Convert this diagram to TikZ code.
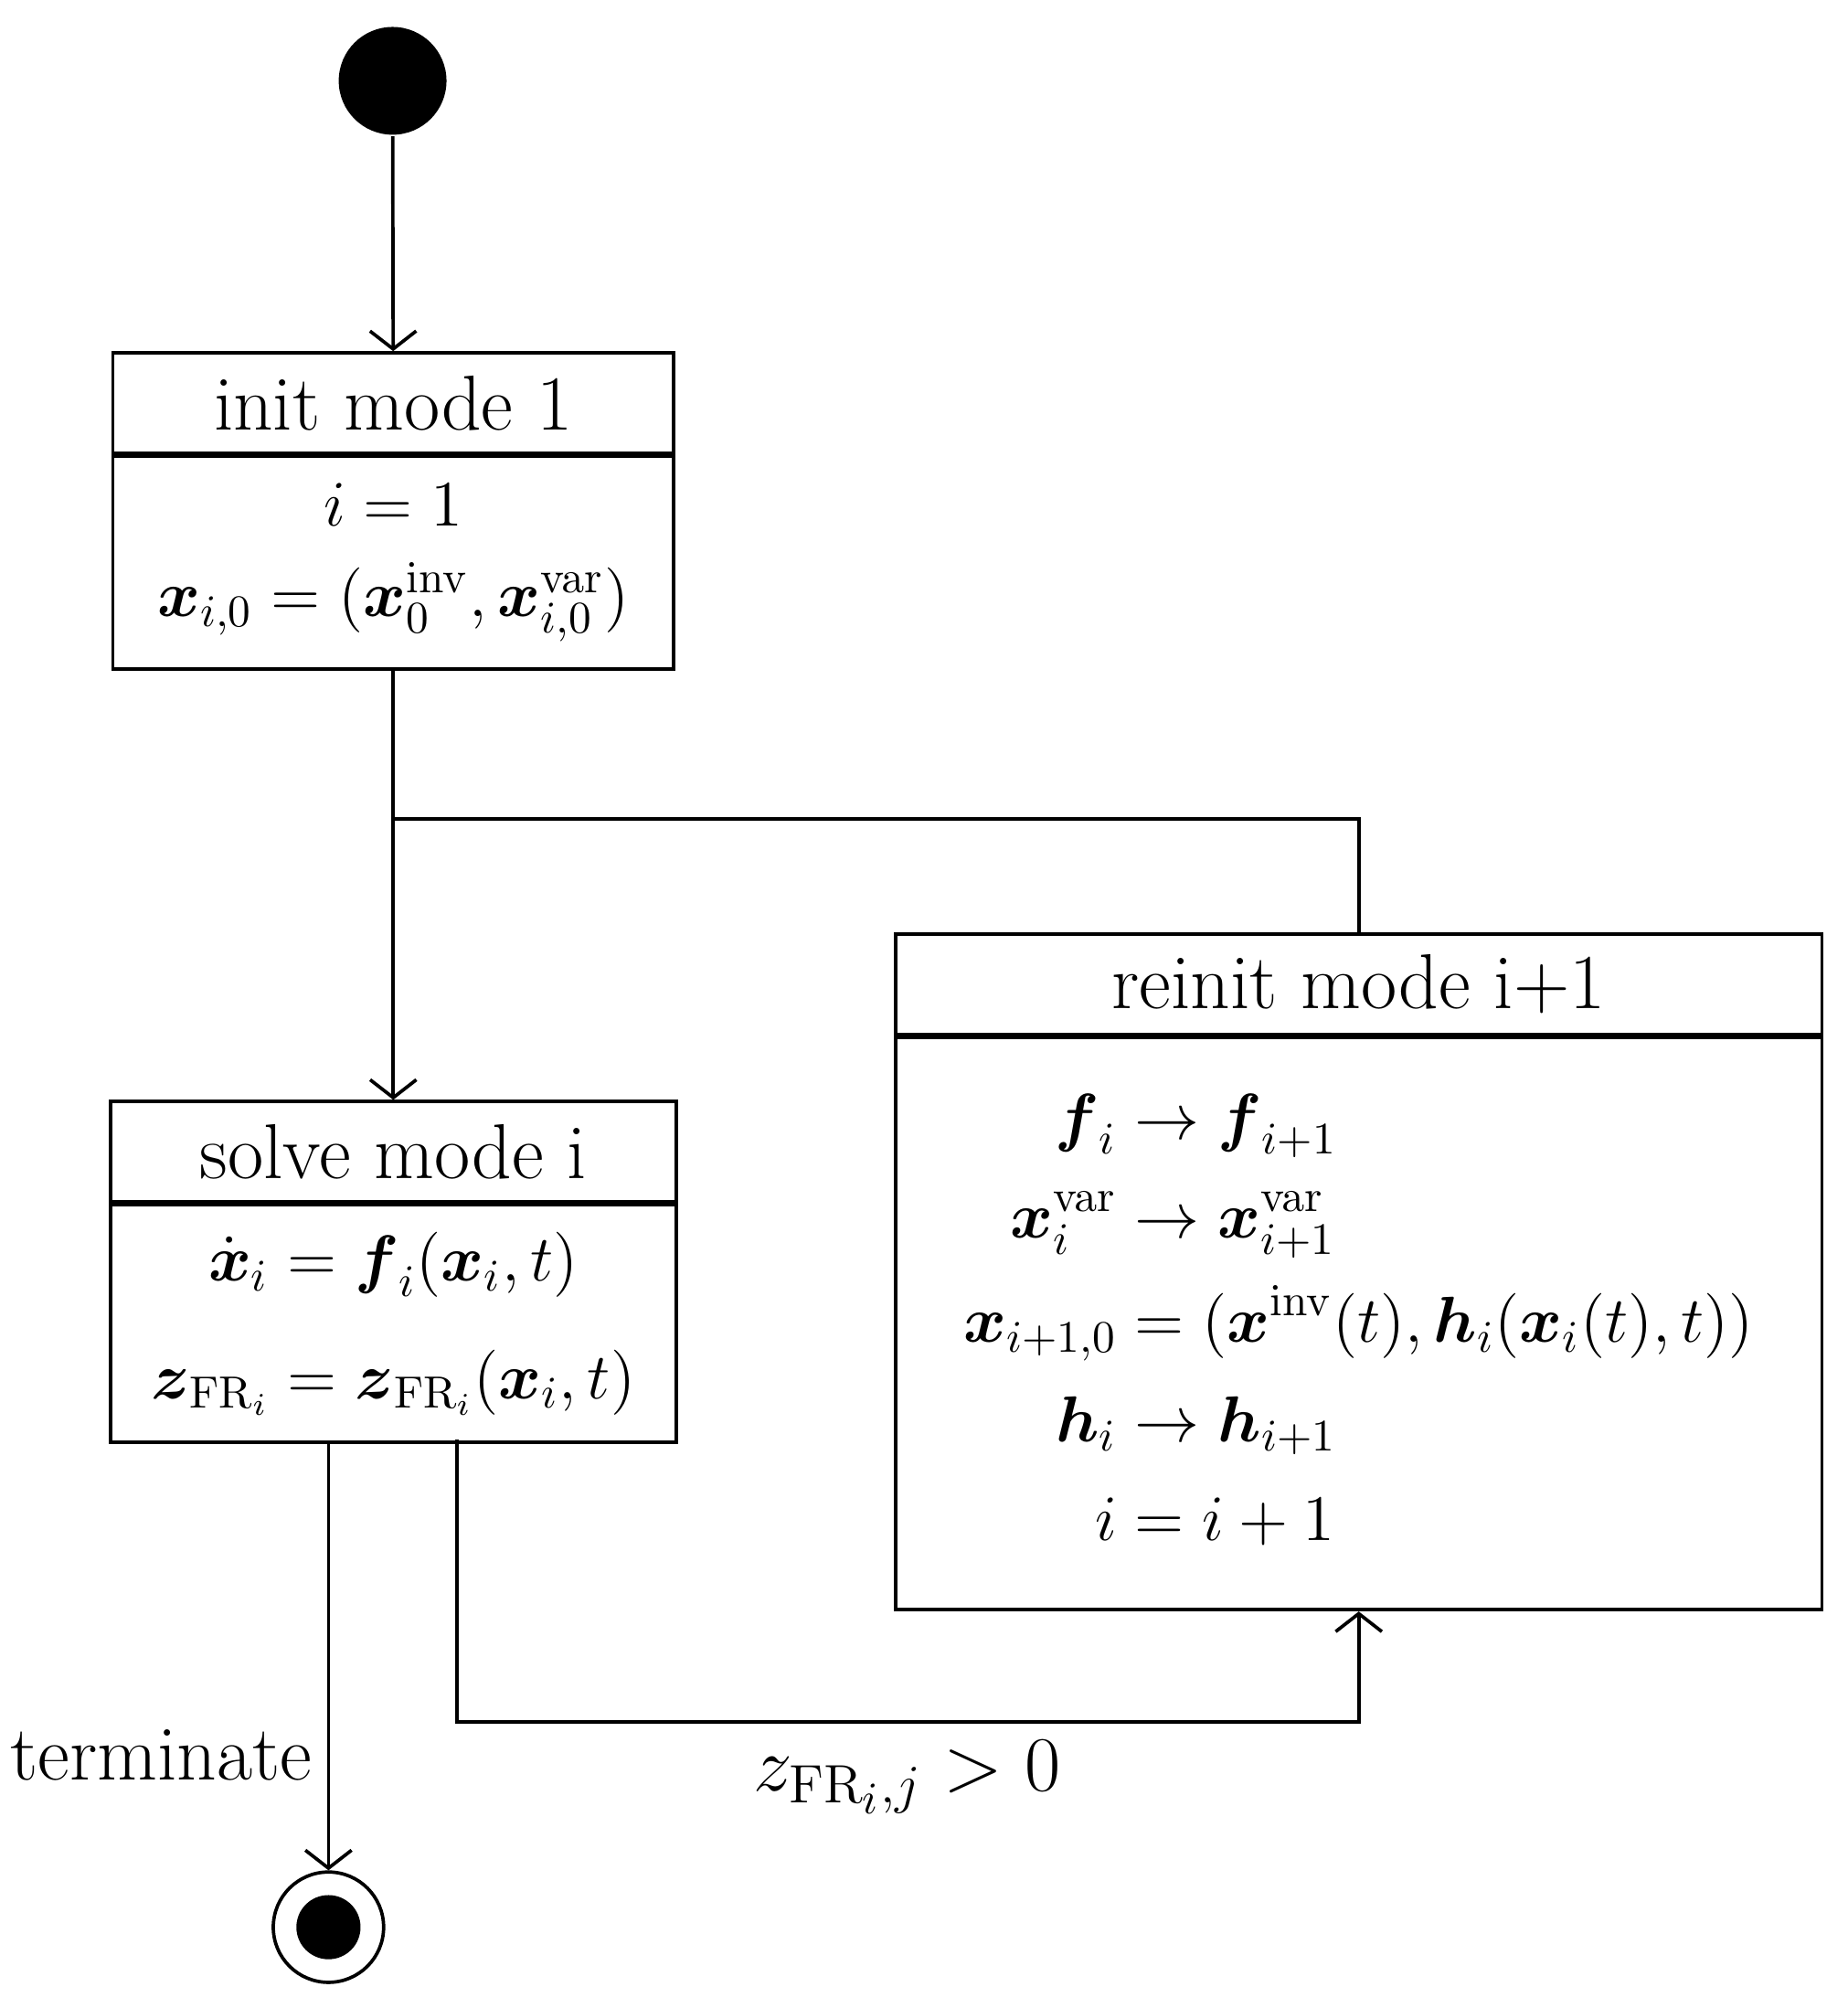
\documentclass[tikz,border=0pt]{standalone}
\usepackage{amsmath,amssymb}
\usetikzlibrary{positioning,arrows.meta}
\newcommand{\bx}{\boldsymbol{x}}
\newcommand{\bof}{\boldsymbol{f}}
\newcommand{\bh}{\boldsymbol{h}}
\newcommand{\bz}{\boldsymbol{z}}
\newcommand{\FR}{\mathrm{FR}}
\tikzset{
  head/.style={draw,minimum height=0.78cm,inner sep=0pt,font=\LARGE},
  body/.style={draw,inner sep=0pt,font=\Large,align=center},
  flow/.style={-{Straight Barb[length=1.4mm,width=3.6mm]}}
}
\begin{document}
\begin{tikzpicture}[line width=0.75pt]
  \useasboundingbox (0,0) rectangle (14.4,-15.65);
  % start and end states
  \node[circle,fill,minimum size=0.84cm,inner sep=0pt] (start) at (3.06,-0.63) {};
  \node[circle,draw,minimum size=0.86cm,inner sep=0pt] (stop) at (2.56,-15.02) {};
  \node[circle,fill,minimum size=0.5cm,inner sep=0pt] at (stop) {};
  % init mode
  \node[head,minimum width=4.37cm] (inith) at (3.065,-3.14) {init mode 1};
  \node[body,minimum width=4.37cm,minimum height=1.66cm,below=0pt of inith] (initb)
    {$i = 1$\\[2pt] $\bx_{i,0} = (\bx_0^{\mathrm{inv}}, \bx_{i,0}^{\mathrm{var}})$};
  % solve mode
  \node[head,minimum width=4.41cm] (solveh) at (3.065,-8.975) {solve mode i};
  \node[body,minimum width=4.41cm,minimum height=1.85cm,below=0pt of solveh] (solveb)
    {$\dot{\bx}_i = \bof_i(\bx_i,t)$\\[8pt] $\bz_{\FR_i} = \bz_{\FR_i}(\bx_i,t)$};
  % reinit mode
  \node[head,minimum width=7.22cm] (reinith) at (10.59,-7.67) {reinit mode i+1};
  \node[body,minimum width=7.22cm,minimum height=4.46cm,below=0pt of reinith] (reinitb)
    {$\begin{aligned}
      \bof_i &\to \bof_{i+1}\\[1pt]
      \bx_i^{\mathrm{var}} &\to \bx_{i+1}^{\mathrm{var}}\\[1pt]
      \bx_{i+1,0} &= (\bx^{\mathrm{inv}}(t), \bh_i(\bx_i(t),t))\\[1pt]
      \bh_i &\to \bh_{i+1}\\[1pt]
      i &= i+1
    \end{aligned}$};
  % connectors
  \coordinate (join) at (3.065,-6.38);
  \coordinate (back) at (10.59,-6.38);
  \coordinate (out) at (3.56,-11.22);
  \coordinate (low) at (3.56,-13.42);
  \coordinate (lowr) at (10.59,-13.42);
  \draw[flow] (start) -- (inith);
  \draw[flow] (initb) -- (solveh);
  \draw (reinith.north) -- (back) -- (join);
  \draw[flow] (solveb.south -| stop) -- node[left,font=\LARGE,pos=0.73] {terminate} (stop);
  \draw[flow] (out) -- (low) -- (lowr) -- (reinitb.south);
  \node[font=\LARGE] (cond) at (7.07,-13.85) {$z_{\FR_i,j} > 0$};
\end{tikzpicture}
\end{document}
